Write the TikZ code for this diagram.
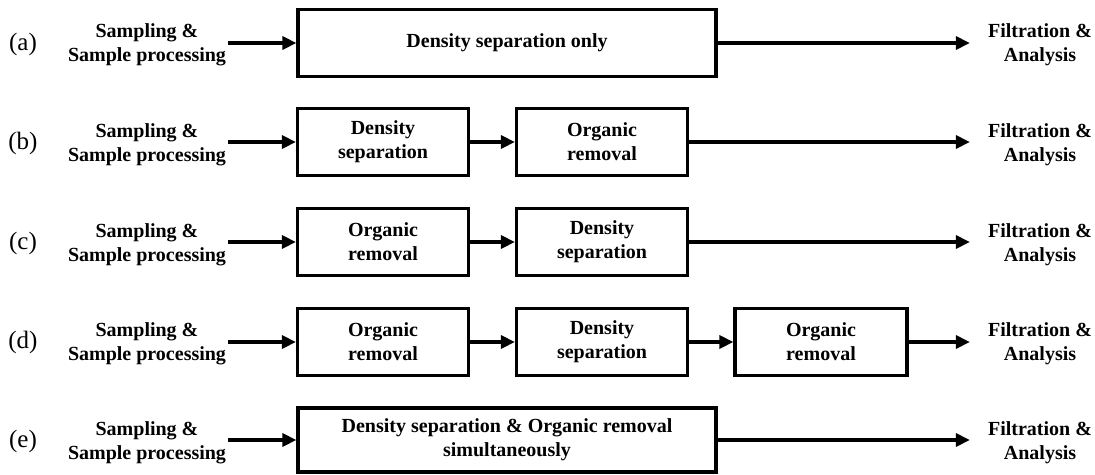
\documentclass[tikz,border=0pt]{standalone}
\usepackage{fontspec}
\setmainfont{Liberation Serif}
\usetikzlibrary{arrows.meta,positioning}
\tikzset{
	stage/.style={draw, line width=3.2pt, minimum height=67pt, align=center, font=\fontsize{20}{24}\selectfont\bfseries},
	ends/.style={align=center, inner sep=2pt, font=\fontsize{20}{24}\selectfont\bfseries},
	tag/.style={font=\fontsize{25}{28}\selectfont},
	flow/.style={line width=3.2pt, -{Triangle[length=14pt,width=13pt]}},
	outflow/.style={flow, shorten >=16pt},
}

\begin{document}
\begin{tikzpicture}[x=1pt,y=-1pt]
		%%%%% START %%%%%
		\useasboundingbox (0,0) rectangle (1095,474);
		
		% (a)
		\node[tag] (ta) at (23,44) {(a)};
		\node[ends] (sa) at (147,45) {Sampling \&\\Sample processing};
		\node[stage, minimum width=418pt] (ba) at (507,43) {Density separation only};
		\node[ends] (fa) at (1040,45) {Filtration \&\\Analysis};
		\draw[flow] (sa.east |- ba.west) -- (ba.west);
		\draw[outflow] (ba.east) -- (fa.west |- ba.east);
		
		% (b)
		\node[tag] (tb) at (23,143) {(b)};
		\node[ends] (sb) at (147,145) {Sampling \&\\Sample processing};
		\node[stage, minimum width=171pt] (bb1) at (383,142) {Density\\separation};
		\node[stage, minimum width=171pt] (bb2) at (602,142) {Organic\\removal};
		\node[ends] (fb) at (1040,145) {Filtration \&\\Analysis};
		\draw[flow] (sb.east |- bb1.west) -- (bb1.west);
		\draw[flow] (bb1.east) -- (bb2.west);
		\draw[outflow] (bb2.east) -- (fb.west |- bb2.east);
		
		% (c)
		\node[tag] (tc) at (23,243) {(c)};
		\node[ends] (sc) at (147,245) {Sampling \&\\Sample processing};
		\node[stage, minimum width=171pt] (bc1) at (383,242) {Organic\\removal};
		\node[stage, minimum width=171pt] (bc2) at (602,242) {Density\\separation};
		\node[ends] (fc) at (1040,245) {Filtration \&\\Analysis};
		\draw[flow] (sc.east |- bc1.west) -- (bc1.west);
		\draw[flow] (bc1.east) -- (bc2.west);
		\draw[outflow] (bc2.east) -- (fc.west |- bc2.east);
		
		% (d)
		\node[tag] (td) at (23,342) {(d)};
		\node[ends] (sd) at (147,344) {Sampling \&\\Sample processing};
		\node[stage, minimum width=171pt] (bd1) at (383,342) {Organic\\removal};
		\node[stage, minimum width=171pt] (bd2) at (602,342) {Density\\separation};
		\node[stage, minimum width=172pt] (bd3) at (821,342) {Organic\\removal};
		\node[ends] (fd) at (1040,344) {Filtration \&\\Analysis};
		\draw[flow] (sd.east |- bd1.west) -- (bd1.west);
		\draw[flow] (bd1.east) -- (bd2.west);
		\draw[flow] (bd2.east) -- (bd3.west);
		\draw[outflow] (bd3.east) -- (fd.west |- bd3.east);
		
		% (e)
		\node[tag] (te) at (23,441) {(e)};
		\node[ends] (se) at (147,443) {Sampling \&\\Sample processing};
		\node[stage, minimum width=418pt, minimum height=64pt] (be) at (507,440) {Density separation \& Organic removal\\simultaneously};
		\node[ends] (fe) at (1040,443) {Filtration \&\\Analysis};
		\draw[flow] (se.east |- be.west) -- (be.west);
		\draw[outflow] (be.east) -- (fe.west |- be.east);
		
		%%%%% END %%%%%
	\end{tikzpicture}
\end{document}
